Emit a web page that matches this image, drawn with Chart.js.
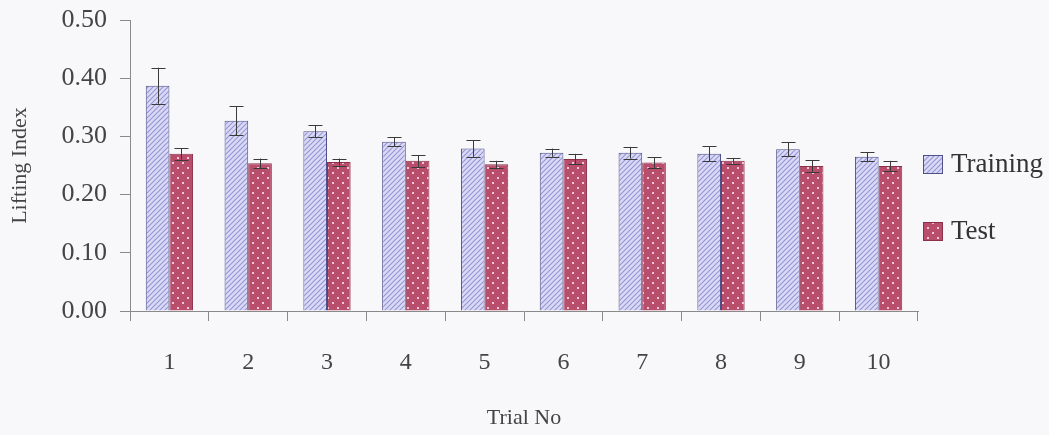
<!DOCTYPE html>
<html>
<head>
<meta charset="utf-8">
<script src="https://cdn.jsdelivr.net/npm/chart.js@4/dist/chart.umd.min.js"></script>
<style>
  html, body { margin: 0; padding: 0; background: #f8f8fb; }
  #wrap { width: 1049px; height: 435px; }
</style>
</head>
<body>
<div id="wrap"><canvas id="liftChart"></canvas></div>
<script>
// Data
const trials = ['1', '2', '3', '4', '5', '6', '7', '8', '9', '10'];
const trainingMean = [0.387, 0.327, 0.309, 0.291, 0.279, 0.272, 0.272, 0.270, 0.278, 0.265];
const trainingErr  = [0.031, 0.025, 0.010, 0.008, 0.014, 0.007, 0.010, 0.013, 0.012, 0.008];
const testMean = [0.270, 0.254, 0.256, 0.258, 0.252, 0.261, 0.255, 0.258, 0.249, 0.249];
const testErr  = [0.010, 0.008, 0.006, 0.010, 0.006, 0.009, 0.009, 0.005, 0.010, 0.009];
const yTicks = [0, 0.1, 0.2, 0.3, 0.4, 0.5];

const serif = "'Liberation Serif', 'DejaVu Serif', serif";

// Fill patterns
function hatchPattern() {
    const c = document.createElement('canvas');
    c.width = 5; c.height = 5;
    const g = c.getContext('2d');
    g.fillStyle = '#dadaf6';
    g.fillRect(0, 0, 5, 5);
    g.strokeStyle = '#9494d6';
    g.lineWidth = 1.1;
    g.beginPath();
    g.moveTo(0, 5); g.lineTo(5, 0);
    g.moveTo(-2.5, 2.5); g.lineTo(2.5, -2.5);
    g.moveTo(2.5, 7.5); g.lineTo(7.5, 2.5);
    g.stroke();
    return g.createPattern(c, 'repeat');
}

function dotPattern() {
    const c = document.createElement('canvas');
    c.width = 10; c.height = 10;
    const g = c.getContext('2d');
    g.fillStyle = '#b84e6c';
    g.fillRect(0, 0, 10, 10);
    g.fillStyle = '#f4c8d6';
    g.fillRect(2, 2, 2, 2);
    g.fillRect(7, 7, 2, 2);
    return g.createPattern(c, 'repeat');
}

const errors = [trainingErr, testErr];

// Error bars drawn through the y scale
const errorBars = {
    id: 'errorBars',
    afterDatasetsDraw(chart) {
        const ctx = chart.ctx;
        const y = chart.scales.y;
        ctx.save();
        ctx.strokeStyle = '#3a3a3a';
        ctx.lineWidth = 1;
        chart.data.datasets.forEach((ds, i) => {
            chart.getDatasetMeta(i).data.forEach((bar, j) => {
                const v = ds.data[j], e = errors[i][j];
                const top = y.getPixelForValue(v + e);
                const bot = y.getPixelForValue(v - e);
                const x = Math.round(bar.x) + 0.5;
                ctx.beginPath();
                ctx.moveTo(x, top); ctx.lineTo(x, bot);
                ctx.moveTo(x - 7, Math.round(top) + 0.5); ctx.lineTo(x + 7, Math.round(top) + 0.5);
                ctx.moveTo(x - 7, Math.round(bot) + 0.5); ctx.lineTo(x + 7, Math.round(bot) + 0.5);
                ctx.stroke();
            });
        });
        ctx.restore();
    }
};

// Legend on the right
const sideLegend = {
    id: 'sideLegend',
    afterDraw(chart) {
        const ctx = chart.ctx;
        const rows = [164, 231];
        ctx.save();
        chart.data.datasets.forEach((ds, i) => {
            const yc = rows[i];
            ctx.fillStyle = ds.backgroundColor;
            ctx.fillRect(923, yc - 9, 20, 19);
            ctx.strokeStyle = ds.borderColor;
            ctx.lineWidth = 1;
            ctx.strokeRect(923.5, yc - 8.5, 19, 18);
            ctx.fillStyle = '#333';
            ctx.font = '27px ' + serif;
            ctx.textBaseline = 'middle';
            ctx.fillText(ds.label, 951, yc + 1);
        });
        ctx.restore();
    }
};

const ctx = document.getElementById('liftChart').getContext('2d');
new Chart(ctx, {
    type: 'bar',
    data: {
        labels: trials,
        datasets: [{
            label: 'Training',
            data: trainingMean,
            backgroundColor: hatchPattern(),
            borderColor: '#505088',
            borderWidth: 1,
            categoryPercentage: 0.6,
            barPercentage: 1.0
        }, {
            label: 'Test',
            data: testMean,
            backgroundColor: dotPattern(),
            borderColor: '#8a3048',
            borderWidth: 1,
            categoryPercentage: 0.6,
            barPercentage: 1.0
        }]
    },
    options: {
        responsive: true,
        maintainAspectRatio: false,
        animation: false,
        layout: { padding: { left: 0, right: 131, top: 20, bottom: 0 } },
        plugins: {
            legend: { display: false },
            tooltip: { enabled: false }
        },
        scales: {
            x: {
                afterFit(scale) { scale.height = 124; },
                grid: { drawOnChartArea: false, tickLength: 10, color: '#8a8a8a' },
                border: { color: '#8a8a8a' },
                ticks: { color: '#444', font: { family: serif, size: 24 }, padding: 27 },
                title: {
                    display: true, text: 'Trial No', color: '#444',
                    font: { family: serif, size: 22 }, padding: { top: 0, bottom: 4 }
                }
            },
            y: {
                min: 0, max: 0.5,
                afterFit(scale) {
                    scale.width = 130;
                    scale.paddingTop = 0;
                    scale.paddingBottom = 0;
                },
                afterBuildTicks(scale) { scale.ticks = yTicks.map(v => ({ value: v })); },
                grid: { drawOnChartArea: false, tickLength: 10, color: '#8a8a8a' },
                border: { color: '#8a8a8a' },
                ticks: {
                    color: '#444', font: { family: serif, size: 26 }, padding: 13,
                    callback: v => v.toFixed(2)
                },
                title: {
                    display: true, text: 'Lifting Index', color: '#444',
                    font: { family: serif, size: 22 }, padding: { top: 7, bottom: 0 }
                }
            }
        }
    },
    plugins: [errorBars, sideLegend]
});
</script>
</body>
</html>
